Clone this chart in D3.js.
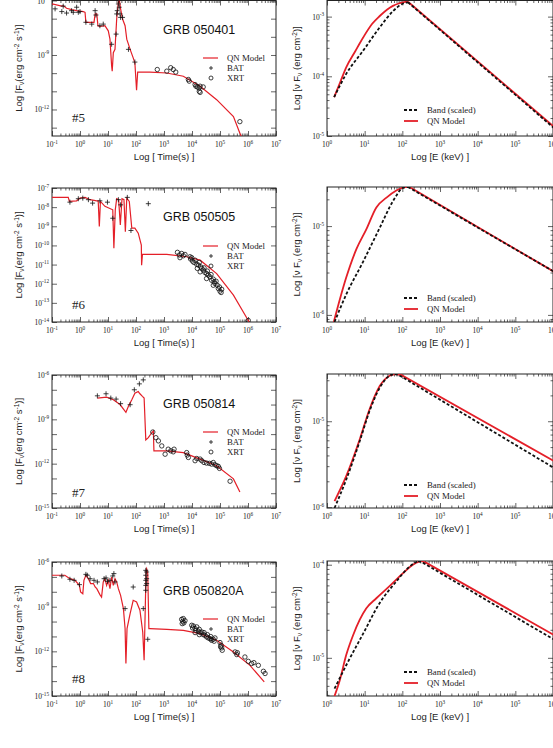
<!DOCTYPE html>
<html>
<head>
<meta charset="utf-8">
<script src="https://cdn.jsdelivr.net/npm/d3@7"></script>
<style>
  body { margin: 0; background: #fff; }
  svg { display: block; }
</style>
</head>
<body>
<div id="chart"></div>
<script>
// light curves : [log10 t (s), log10 F]   spectra : [log10 E (keV), log10 nuFnu]

// ---- GRB 050401 (#5)
const lc5Model = [[-1,-6.19],[-0.65,-6.31],[-0.6,-6.28],[-0.48,-6.43],[-0.3,-6.5],[-0.12,-6.56],[0.0,-6.58],[0.12,-6.61],[0.18,-6.65],[0.21,-7.2],[0.5,-7.2],[0.54,-6.74],[0.6,-6.74],[0.64,-7.39],[0.71,-7.43],[0.89,-7.39],[1.01,-7.67],[1.07,-8.13],[1.13,-9.61],[1.15,-9.89],[1.19,-8.87],[1.25,-8.69],[1.31,-7.02],[1.37,-6.09],[1.4,-5.91],[1.45,-6.46],[1.52,-7.02],[1.61,-7.39],[1.67,-8.13],[1.79,-8.69],[1.9,-9.16],[1.96,-9.43],[2.02,-10.94],[2.06,-9.94],[2.5,-9.94],[3.1,-9.99],[3.69,-10.17],[4.29,-10.72],[4.88,-11.46],[5.48,-12.39],[5.71,-13.31],[5.8,-13.6]];
const lc5Bat = [[-0.89,-6.46],[-0.65,-6.61],[-0.6,-6.31],[-0.48,-6.69],[-0.3,-6.56],[-0.24,-6.65],[-0.12,-6.37],[-0.06,-6.65],[0.0,-6.61],[0.21,-7.2],[0.42,-7.3],[0.54,-6.56],[0.57,-6.8],[0.71,-7.39],[0.83,-7.3],[1.13,-8.41],[1.29,-7.85],[1.31,-6.74],[1.33,-6.56],[1.37,-6.19],[1.39,-6.0],[1.4,-6.37],[1.43,-6.74],[1.45,-6.93],[1.52,-6.93],[1.73,-8.69],[1.96,-9.39]];
const lc5Xrt = [[2.76,-9.8],[3.1,-9.89],[3.24,-9.7],[3.33,-9.8],[3.42,-9.94],[3.87,-10.35],[3.9,-10.44],[4.11,-10.63],[4.14,-10.72],[4.19,-10.76],[4.25,-10.81],[4.29,-10.72],[4.26,-11.0],[4.29,-11.06],[4.4,-10.76],[5.71,-12.67]];
const sp5Qn = [[0.19,-4.35],[0.35,-4.1],[0.51,-3.85],[0.75,-3.58],[0.96,-3.35],[1.2,-3.12],[1.4,-2.99],[1.6,-2.88],[1.75,-2.82],[1.9,-2.78],[2.02,-2.76],[2.15,-2.75],[6.05,-4.86]];
const sp5Band = [[0.19,-4.35],[0.51,-3.96],[0.96,-3.57],[1.4,-3.18],[1.75,-2.91],[2.02,-2.78],[2.15,-2.76],[6.05,-4.88]];

// ---- GRB 050505 (#6)
const lc6Model = [[-1,-7.49],[-0.42,-7.49],[-0.38,-7.7],[-0.12,-7.67],[0.0,-7.53],[0.18,-7.49],[0.36,-7.61],[0.6,-7.67],[0.65,-7.67],[0.69,-9.01],[0.73,-7.7],[0.89,-7.96],[1.17,-8.14],[1.21,-10.15],[1.26,-8.14],[1.31,-7.56],[1.38,-7.61],[1.44,-8.93],[1.5,-7.56],[1.57,-7.61],[1.62,-9.28],[1.67,-7.53],[1.76,-7.7],[1.85,-9.1],[1.96,-9.1],[2.08,-9.36],[2.19,-9.98],[2.2,-11.03],[2.23,-10.47],[3.1,-10.47],[3.81,-10.59],[4.29,-10.77],[4.88,-11.47],[5.48,-12.6],[6.01,-13.92],[6.1,-14.1]];
const lc6Bat = [[-0.36,-7.74],[-0.06,-7.56],[0.1,-7.53],[0.3,-7.61],[0.45,-7.79],[0.71,-7.67],[0.98,-7.74],[1.17,-8.58],[1.37,-7.61],[1.45,-7.88],[1.69,-7.49],[1.82,-9.22],[2.44,-7.82]];
const lc6Xrt = [[3.48,-10.36],[3.55,-10.5],[3.63,-10.42],[3.57,-10.64],[3.69,-10.54],[3.75,-10.47],[3.93,-10.59],[3.95,-10.71],[3.99,-10.64],[4.02,-10.82],[4.07,-10.89],[4.11,-10.77],[4.17,-10.99],[4.23,-11.03],[4.26,-10.89],[4.31,-11.12],[4.35,-11.2],[4.4,-11.29],[4.43,-11.17],[4.46,-11.41],[4.52,-11.47],[4.55,-11.34],[4.58,-11.55],[4.64,-11.64],[4.68,-11.52],[4.7,-11.82],[4.76,-11.76],[4.79,-11.9],[4.82,-11.99],[4.86,-11.87],[4.9,-12.08],[4.94,-12.25],[4.98,-12.17],[5.0,-12.39],[5.04,-12.46],[5.06,-12.29],[4.29,-11.38],[4.19,-11.2],[4.52,-11.73],[4.76,-12.08],[6.01,-13.92]];
const sp6Qn = [[0.18,-6.08],[0.51,-5.58],[0.78,-5.26],[1.04,-5.04],[1.31,-4.79],[1.58,-4.68],[1.84,-4.6],[2.06,-4.56],[2.19,-4.56],[6.05,-5.52]];
const sp6Band = [[0.2,-6.08],[0.51,-5.77],[0.96,-5.4],[1.4,-5.02],[1.75,-4.72],[2.02,-4.57],[2.15,-4.56],[6.05,-5.52]];

// ---- GRB 050814 (#7)
const lc7Model = [[0.62,-7.56],[0.95,-7.5],[1.19,-7.67],[1.43,-8.0],[1.64,-8.52],[1.73,-8.12],[1.85,-7.67],[1.96,-7.23],[2.08,-7.12],[2.14,-7.27],[2.23,-7.45],[2.29,-7.56],[2.35,-10.4],[2.44,-10.24],[2.56,-9.91],[2.62,-9.79],[2.64,-11.13],[3.1,-11.13],[3.69,-11.25],[4.29,-11.69],[4.88,-12.14],[5.48,-13.03],[5.71,-13.92]];
const lc7Bat = [[0.62,-7.41],[0.93,-7.27],[1.1,-7.56],[1.29,-7.63],[1.45,-7.94],[1.79,-8.01],[1.94,-7.0],[2.12,-6.6],[2.26,-6.33]];
const lc7Xrt = [[2.6,-9.86],[2.71,-10.24],[2.8,-10.46],[2.92,-10.8],[3.04,-11.36],[3.15,-11.02],[3.24,-11.13],[3.33,-11.2],[3.36,-11.02],[3.81,-11.25],[3.83,-11.42],[3.87,-11.58],[4.11,-11.8],[4.17,-11.65],[4.29,-11.69],[4.35,-11.8],[4.43,-11.92],[4.52,-11.96],[4.62,-11.98],[4.7,-12.03],[4.76,-11.92],[4.82,-12.07],[4.88,-12.14],[4.94,-12.18],[4.98,-12.32],[5.36,-13.19]];
const sp7Qn = [[0.2,-5.93],[0.51,-5.64],[0.87,-5.21],[1.13,-4.86],[1.4,-4.59],[1.66,-4.47],[1.8,-4.45],[1.97,-4.46],[6.05,-5.47]];
const sp7Band = [[0.2,-6.01],[0.51,-5.68],[0.87,-5.23],[1.13,-4.88],[1.4,-4.61],[1.66,-4.47],[1.8,-4.45],[1.9,-4.46],[6.05,-5.55]];

// ---- GRB 050820A (#8)
const lc8Model = [[-1,-6.89],[-0.54,-6.89],[-0.36,-7.12],[-0.18,-7.23],[-0.02,-7.57],[0.02,-8.01],[0.1,-8.13],[0.14,-7.23],[0.21,-6.89],[0.3,-7.12],[0.38,-7.45],[0.48,-7.45],[0.54,-7.68],[0.6,-7.79],[0.71,-8.19],[0.77,-8.35],[0.83,-7.34],[0.89,-7.12],[0.95,-7.57],[1.01,-7.23],[1.07,-7.79],[1.13,-7.01],[1.19,-7.57],[1.25,-7.12],[1.31,-7.34],[1.37,-7.79],[1.45,-8.24],[1.55,-9.13],[1.61,-10.47],[1.64,-12.82],[1.68,-10.47],[1.79,-9.47],[1.9,-8.57],[2.02,-8.68],[2.14,-9.24],[2.24,-10.7],[2.29,-12.6],[2.32,-10.03],[2.36,-6.56],[2.38,-6.45],[2.42,-6.78],[2.46,-10.47],[2.5,-10.47],[3.1,-10.52],[3.69,-10.59],[4.29,-10.81],[4.88,-11.26],[5.48,-12.04],[6.07,-12.94],[6.58,-14.05]];
const lc8Bat = [[-0.65,-6.94],[-0.36,-7.16],[-0.21,-7.23],[-0.02,-7.52],[0.21,-6.83],[0.26,-6.89],[0.36,-7.12],[0.5,-7.23],[0.62,-7.34],[0.86,-7.12],[0.93,-7.07],[0.98,-7.3],[1.07,-7.23],[1.17,-6.94],[1.21,-6.78],[1.25,-7.34],[1.61,-9.13],[1.9,-7.68],[2.26,-9.13],[2.35,-6.56],[2.35,-6.89],[2.35,-7.23],[2.35,-7.57],[2.35,-7.9],[2.38,-6.67],[2.38,-7.12],[2.38,-7.45],[2.42,-11.19]];
const lc8Xrt = [[3.63,-9.85],[3.67,-9.98],[3.69,-9.8],[3.71,-10.09],[3.75,-9.94],[3.65,-10.14],[3.99,-10.25],[4.02,-10.43],[4.05,-10.3],[4.11,-10.47],[4.14,-10.59],[4.17,-10.36],[4.23,-10.65],[4.26,-10.52],[4.29,-10.74],[4.35,-10.7],[4.4,-10.88],[4.43,-10.74],[4.46,-10.92],[4.52,-11.03],[4.55,-10.88],[4.58,-11.1],[4.64,-11.15],[4.67,-11.01],[4.7,-11.26],[4.76,-11.19],[4.79,-11.32],[4.82,-11.1],[4.26,-10.88],[4.11,-10.74],[5.0,-11.41],[5.04,-11.59],[5.06,-11.77],[5.08,-11.93],[5.02,-11.7],[5.54,-12.04],[5.6,-12.22],[5.62,-12.09],[5.89,-12.38],[6.01,-12.67],[6.13,-12.82],[6.21,-12.76],[6.37,-12.94],[6.55,-13.34],[6.61,-13.49]];
const sp8Qn = [[0.2,-5.41],[0.34,-5.24],[0.51,-4.97],[0.69,-4.76],[0.87,-4.59],[1.04,-4.47],[1.31,-4.36],[1.66,-4.23],[2.02,-4.09],[2.28,-4.0],[2.5,-3.96],[2.64,-3.98],[6.05,-4.76]];
const sp8Band = [[0.2,-5.33],[0.51,-5.08],[0.96,-4.74],[1.4,-4.41],[1.84,-4.18],[2.19,-4.02],[2.42,-3.96],[2.55,-3.98],[6.05,-4.81]];

const grbNames = ["GRB 050401", "GRB 050505", "GRB 050814", "GRB 050820A"];
const grbTags = ["#5", "#6", "#7", "#8"];

/* ---------------- layout ---------------- */
const W = 553, H = 748;
const serif = "'Liberation Serif','Times New Roman',serif";
const sans = "'Liberation Sans',Arial,sans-serif";
const red = "#e41f28";

const lcPanels = [
  { model: lc5Model, bat: lc5Bat, xrt: lc5Xrt, top: 0.5, bottom: 136, yLog: [-13.46, -6], labStep: 3, nameY: 34, tagY: 122, legY: 58 },
  { model: lc6Model, bat: lc6Bat, xrt: lc6Xrt, top: 188, bottom: 322, yLog: [-14, -7], labStep: 1, nameY: 221, tagY: 309, legY: 246 },
  { model: lc7Model, bat: lc7Bat, xrt: lc7Xrt, top: 375, bottom: 508, yLog: [-15, -6], labStep: 3, nameY: 408, tagY: 497, legY: 432 },
  { model: lc8Model, bat: lc8Bat, xrt: lc8Xrt, top: 562, bottom: 696, yLog: [-15, -6], labStep: 3, nameY: 595, tagY: 683, legY: 619 }
];
const spPanels = [
  { qn: sp5Qn, band: sp5Band, top: 0.5, bottom: 136, yLog: [-5, -2.73], legY: 110 },
  { qn: sp6Qn, band: sp6Band, top: 187, bottom: 322, yLog: [-6.08, -4.56], legY: 298 },
  { qn: sp7Qn, band: sp7Band, top: 374, bottom: 508, yLog: [-6.01, -4.45], legY: 485 },
  { qn: sp8Qn, band: sp8Band, top: 561, bottom: 696, yLog: [-5.41, -3.96], legY: 672 }
];

const svg = d3.select("#chart").append("svg").attr("width", W).attr("height", H);
let clipId = 0;

function decades(dom) {
  const a = Math.log10(dom[0]), b = Math.log10(dom[1]);
  return d3.range(Math.ceil(a - 0.02), Math.floor(b + 0.02) + 1);
}
function minors(dom) {
  const out = [];
  for (let e = Math.floor(Math.log10(dom[0])); e < Math.log10(dom[1]); e++)
    for (let k = 2; k < 10; k++) {
      const v = k * Math.pow(10, e);
      if (v > dom[0] && v < dom[1]) out.push(v);
    }
  return out;
}
function powLabel(g, x, y, e, anchor) {
  const t = g.append("text").attr("x", x).attr("y", y).attr("text-anchor", anchor)
    .attr("font-family", serif).attr("font-size", 7.5).attr("fill", "#222");
  t.append("tspan").text("10");
  t.append("tspan").attr("dy", -3.5).attr("font-size", 5.2).text(e);
}
function ticks(g, axisFn, scale, vals, len, tr) {
  g.append("g").attr("transform", tr)
    .call(axisFn(scale).tickValues(vals).tickSize(-len).tickFormat(""))
    .call(a => a.select(".domain").remove())
    .selectAll("line").attr("stroke", "#222").attr("stroke-width", 0.7);
}

function drawFrame(x, y, opt) {
  const g = svg.append("g");
  const [xa, xb] = x.range(), [yb, ya] = y.range();
  const xMaj = decades(x.domain()).map(e => Math.pow(10, e));
  const yDec = decades(y.domain());
  const yMaj = yDec.map(e => Math.pow(10, e));
  [[d3.axisBottom, `translate(0,${yb})`], [d3.axisTop, `translate(0,${ya})`]].forEach(([f, tr]) => {
    ticks(g, f, x, xMaj, 5, tr);
    ticks(g, f, x, minors(x.domain()), 2.5, tr);
  });
  [[d3.axisLeft, `translate(${xa},0)`], [d3.axisRight, `translate(${xb},0)`]].forEach(([f, tr]) => {
    ticks(g, f, y, yMaj, 5, tr);
    if (opt.yMinor) ticks(g, f, y, minors(y.domain()), 2.5, tr);
  });
  g.append("rect").attr("x", xa).attr("y", ya).attr("width", xb - xa).attr("height", yb - ya)
    .attr("fill", "none").attr("stroke", "#222").attr("stroke-width", 1);
  decades(x.domain()).forEach(e => powLabel(g, x(Math.pow(10, e)), yb + 11, e, "middle"));
  yDec.filter(e => e % opt.labStep === 0)
    .forEach(e => powLabel(g, xa - 3, y(Math.pow(10, e)) + 3, e, "end"));
  // clip for the curves
  const id = "clip" + (clipId++);
  svg.append("clipPath").attr("id", id).append("rect")
    .attr("x", xa).attr("y", ya).attr("width", xb - xa).attr("height", yb - ya);
  return svg.append("g").attr("clip-path", `url(#${id})`);
}

function titleY(x, yc, parts) {
  const t = svg.append("text").attr("transform", `translate(${x},${yc}) rotate(-90)`)
    .attr("text-anchor", "middle").attr("font-family", sans).attr("font-size", 9.5).attr("fill", "#222");
  parts.forEach(([s, kind]) => {
    const sp = t.append("tspan").text(s);
    if (kind === "sup") sp.attr("font-size", 6.5).attr("dy", -3.5);
    if (kind === "sub") sp.attr("font-size", 6.5).attr("dy", 2);
    if (kind === "back") sp.attr("dy", 3.5);
    if (kind === "backsub") sp.attr("dy", -2);
  });
}

/* ---------------- light curves (left) ---------------- */
lcPanels.forEach((p, i) => {
  const x = d3.scaleLog().domain([0.1, 1e7]).range([52, 276]);
  const y = d3.scaleLog().domain([Math.pow(10, p.yLog[0]), Math.pow(10, p.yLog[1])]).range([p.bottom, p.top]);
  const plot = drawFrame(x, y, { labStep: p.labStep, yMinor: false });
  const px = d => x(Math.pow(10, d[0])), py = d => y(Math.pow(10, d[1]));

  plot.append("path").datum(p.model)
    .attr("d", d3.line().x(px).y(py))
    .attr("fill", "none").attr("stroke", red).attr("stroke-width", 1.2);
  plot.selectAll(".bat").data(p.bat).join("path")
    .attr("transform", d => `translate(${px(d)},${py(d)})`)
    .attr("d", "M-2.5,0H2.5M0,-2.5V2.5").attr("stroke", "#111").attr("stroke-width", 0.8);
  plot.selectAll(".xrt").data(p.xrt).join("circle")
    .attr("cx", px).attr("cy", py).attr("r", 2.2)
    .attr("fill", "none").attr("stroke", "#111").attr("stroke-width", 0.8);

  svg.append("text").attr("x", 163).attr("y", p.nameY).attr("font-family", sans)
    .attr("font-size", 12.5).attr("fill", "#111").text(grbNames[i]);
  svg.append("text").attr("x", 72).attr("y", p.tagY).attr("font-family", serif)
    .attr("font-size", 13).attr("fill", "#222").text(grbTags[i]);

  // legend
  const lg = svg.append("g").attr("font-family", serif).attr("font-size", 8.8).attr("fill", "#222");
  lg.append("line").attr("x1", 203).attr("x2", 218).attr("y1", p.legY).attr("y2", p.legY)
    .attr("stroke", red).attr("stroke-width", 1.2);
  lg.append("path").attr("transform", `translate(211,${p.legY + 10})`)
    .attr("d", "M-2,0H2M0,-2V2").attr("stroke", "#111").attr("stroke-width", 0.8);
  lg.append("circle").attr("cx", 211).attr("cy", p.legY + 20).attr("r", 2)
    .attr("fill", "none").attr("stroke", "#111").attr("stroke-width", 0.8);
  ["QN Model", "BAT", "XRT"].forEach((s, k) =>
    lg.append("text").attr("x", 227).attr("y", p.legY + 3 + 10 * k).text(s));

  titleY(22, (p.top + p.bottom) / 2, [["Log [F"], ["ν", "sub"], ["(erg cm", "backsub"], ["-2", "sup"], [" s", "back"], ["-1", "sup"], [")]", "back"]]);
  svg.append("text").attr("x", 164).attr("y", p.bottom + 24).attr("text-anchor", "middle")
    .attr("font-family", sans).attr("font-size", 9.5).attr("fill", "#222").text("Log [ Time(s) ]");
});

/* ---------------- spectra (right) ---------------- */
spPanels.forEach(p => {
  const x = d3.scaleLog().domain([1, 1e6]).range([327, 553]);
  const y = d3.scaleLog().domain([Math.pow(10, p.yLog[0]), Math.pow(10, p.yLog[1])]).range([p.bottom, p.top]);
  const plot = drawFrame(x, y, { labStep: 1, yMinor: true });
  const px = d => x(Math.pow(10, d[0])), py = d => y(Math.pow(10, d[1]));
  const smooth = d3.line().x(px).y(py).curve(d3.curveMonotoneX);
  const straight = d3.line().x(px).y(py);

  // rounded rise up to the peak, straight power-law tail after it
  const drawSpec = (arr, attrs) => {
    const k = d3.maxIndex(arr, d => d[1]);
    [[arr.slice(0, k + 1), smooth], [arr.slice(k), straight]].forEach(([part, gen]) => {
      const path = plot.append("path").datum(part).attr("d", gen).attr("fill", "none");
      Object.entries(attrs).forEach(([a, v]) => path.attr(a, v));
    });
  };
  drawSpec(p.qn, { stroke: red, "stroke-width": 1.8 });
  drawSpec(p.band, { stroke: "#111", "stroke-width": 1.8, "stroke-dasharray": "3,2" });

  const lg = svg.append("g").attr("font-family", serif).attr("font-size", 8.8).attr("fill", "#222");
  lg.append("line").attr("x1", 404).attr("x2", 418).attr("y1", p.legY).attr("y2", p.legY)
    .attr("stroke", "#111").attr("stroke-width", 1.8).attr("stroke-dasharray", "3,2");
  lg.append("line").attr("x1", 404).attr("x2", 418).attr("y1", p.legY + 11).attr("y2", p.legY + 11)
    .attr("stroke", red).attr("stroke-width", 1.8);
  lg.append("text").attr("x", 427).attr("y", p.legY + 3).text("Band (scaled)");
  lg.append("text").attr("x", 427).attr("y", p.legY + 14).text("QN Model");

  titleY(300, (p.top + p.bottom) / 2, [["Log [ν F"], ["ν", "sub"], [" (erg cm", "backsub"], ["-2", "sup"], [")]", "back"]]);
  svg.append("text").attr("x", 440).attr("y", p.bottom + 24).attr("text-anchor", "middle")
    .attr("font-family", sans).attr("font-size", 9.5).attr("fill", "#222").text("Log [E (keV) ]");
});
</script>
</body>
</html>
